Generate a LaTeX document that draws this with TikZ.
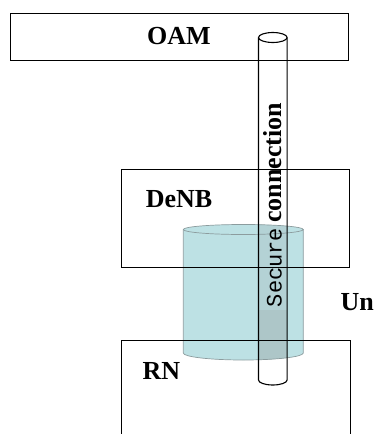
\documentclass[tikz,border=0pt]{standalone}
\usepackage{fontspec}
\setmainfont{Liberation Serif}[BoldFont={Liberation Serif Bold}]
\newfontfamily\lblfont{Liberation Serif}[UprightFont={* Bold}]
\newfontfamily\pipemono{Liberation Mono}
\definecolor{cylfill}{HTML}{BDE1E4}
\definecolor{cyldark}{HTML}{ADC6C8}
\definecolor{cylmid}{HTML}{B4D2D5}
\definecolor{cylline}{HTML}{8C9C9E}
\begin{document}
\begin{tikzpicture}[x=1pt,y=-1pt,
  box/.style={draw=black,line width=1.2pt,anchor=north west,inner sep=0pt},
  lbl/.style={font=\lblfont\fontsize{26}{30}\selectfont,inner sep=0pt},
  pipeline/.style={draw=black,line width=1.1pt}]
\useasboundingbox (0,0) rectangle (374,434);
% cylinder (Un link) fill
\path[fill=cylfill] (183.3,229.5) -- (183.3,353) arc(180:0:60 and 7) -- (303.3,229.5) arc(0:-180:60 and 5) -- cycle;
\begin{scope}
\clip (183.3,229.5) -- (183.3,353) arc(180:0:60 and 7) -- (303.3,229.5) arc(0:-180:60 and 5) -- cycle;
\fill[cylmid] (258.5,215) rectangle (287.1,310);
\fill[cyldark] (258.5,310) rectangle (287.1,365);
\end{scope}
\draw[cylline,line width=0.7pt] (183.3,229.5) -- (183.3,353) arc(180:0:60 and 7) -- (303.3,229.5);
\draw[cylline,line width=0.7pt] (243.3,229.5) ellipse (60 and 5);
% boxes
\node[box,minimum width=338pt,minimum height=47pt] (oam) at (10,12.5) {};
\node[box,minimum width=228pt,minimum height=98pt] (denb) at (120.5,169) {};
\node[box,minimum width=229pt,minimum height=110pt] (rn) at (120.5,339.5) {};
\node[lbl] (oamt) at (179,36) {OAM};
\node[lbl] (denbt) at (179,199) {DeNB};
\node[lbl] (rnt) at (161.5,371) {RN};
\node[lbl,anchor=west] (un) at (340.5,302) {Un};
% secure connection pipe
\draw[pipeline] (258.5,37.5) -- (258.5,380) arc(180:0:14.3 and 5) -- (287.1,37.5);
\draw[pipeline,fill=white] (272.8,37.5) ellipse (14.3 and 5);
\node[rotate=90,inner sep=0pt] (sec) at (272.8,205)
  {{\pipemono\fontsize{22}{26}\selectfont Secure}\hspace{5pt}{\lblfont\fontsize{26}{30}\selectfont connection}};
\end{tikzpicture}
\end{document}
